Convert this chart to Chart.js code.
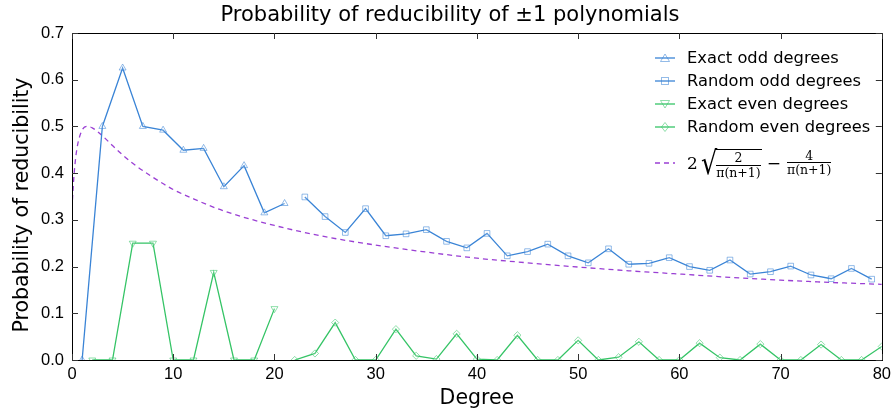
<!DOCTYPE html>
<html>
<head>
<meta charset="utf-8">
<script src="https://cdn.jsdelivr.net/npm/chart.js@4.4.0/dist/chart.umd.min.js"></script>
<style>
  html, body { margin: 0; padding: 0; background: #fff; }
  #wrap { position: relative; width: 896px; height: 414px; }
  #legend { position: absolute; left: 652px; top: 46px; font-family: "DejaVu Sans", sans-serif; font-size: 16.3px; color: #000; }
  #legend .row { height: 23px; display: flex; align-items: center; }
  #legend svg { width: 26px; height: 14px; margin-right: 9px; flex: none; }
  #legend .frm { margin-top: 13px; font-family: "DejaVu Serif", serif; font-size: 17px; display: flex; align-items: center; }
  .frac { display: inline-flex; flex-direction: column; align-items: center; font-size: 12.5px; line-height: 13.5px; vertical-align: middle; margin: 0 1px; }
  .frac .num { border-bottom: 1px solid #000; padding: 0 1px; align-self: stretch; text-align: center; }
  .rad { font-size: 32px; line-height: 32px; margin-left: 1px; transform: scaleX(0.8); display: inline-block; }
  .under { border-top: 1px solid #000; margin-left: -4px; padding-top: 1px; margin-top: 3px; }
</style>
</head>
<body>
<div id="wrap">
  <canvas id="grafico" width="896" height="414"></canvas>
  <div id="legend"></div>
</div>
<script>
// degrees (categories)
const oddExactDeg = [1, 3, 5, 7, 9, 11, 13, 15, 17, 19, 21];
const oddRandomDeg = [23, 25, 27, 29, 31, 33, 35, 37, 39, 41, 43, 45, 47, 49, 51, 53, 55, 57, 59, 61, 63, 65, 67, 69, 71, 73, 75, 77, 79];
const evenExactDeg = [2, 4, 6, 8, 10, 12, 14, 16, 18, 20];
const evenRandomDeg = [22, 24, 26, 28, 30, 32, 34, 36, 38, 40, 42, 44, 46, 48, 50, 52, 54, 56, 58, 60, 62, 64, 66, 68, 70, 72, 74, 76, 78, 80];

// probabilities
const exactOdd = [0, 0.5, 0.625, 0.5, 0.492, 0.449, 0.453, 0.371, 0.416, 0.315, 0.335];
const randomOdd = [0.349, 0.307, 0.273, 0.324, 0.266, 0.270, 0.279, 0.254, 0.240, 0.271, 0.223, 0.232, 0.248, 0.223, 0.208, 0.238, 0.205, 0.207, 0.219, 0.200, 0.192, 0.214, 0.184, 0.189, 0.201, 0.182, 0.174, 0.196, 0.173];
const exactEven = [0, 0, 0.25, 0.25, 0, 0, 0.1875, 0, 0, 0.11];
const randomEven = [0, 0.014, 0.080, 0, 0, 0.066, 0.009, 0.002, 0.056, 0.002, 0, 0.053, 0, 0, 0.042, 0, 0.006, 0.039, 0, 0, 0.036, 0.005, 0, 0.034, 0, 0, 0.033, 0, 0, 0.029];

// dashed reference curve, sampled
const curveX = [0, 0.1, 0.25, 0.5, 1, 1.5, 2, 3, 4, 5, 6, 8, 10, 12, 15, 20, 25, 30, 35, 40, 45, 50, 55, 60, 65, 70, 75, 80];
const curveY = [0.323, 0.364, 0.409, 0.454, 0.492, 0.500, 0.497, 0.480, 0.459, 0.439, 0.421, 0.391, 0.365, 0.345, 0.319, 0.288, 0.264, 0.246, 0.231, 0.218, 0.208, 0.199, 0.191, 0.184, 0.177, 0.171, 0.166, 0.162];

const xTicks = [0, 10, 20, 30, 40, 50, 60, 70, 80];
const yTicks = [0, 0.1, 0.2, 0.3, 0.4, 0.5, 0.6, 0.7];

const azul = '#3a84d6';
const azulClaro = 'rgba(58,132,214,0.55)';
const verde = '#35c466';
const verdeClaro = 'rgba(53,196,102,0.55)';
const roxo = '#9a3fd4';

function pares(xs, ys) {
  return xs.map((x, i) => ({ x: x, y: ys[i] }));
}

function serie(label, xs, ys, cor, corClara, estilo, rot) {
  return {
    label: label,
    data: pares(xs, ys),
    borderColor: cor,
    borderWidth: 1.3,
    backgroundColor: 'rgba(255,255,255,0)',
    pointStyle: estilo,
    pointRotation: rot,
    pointRadius: estilo === 'rectRot' ? 3.6 : 4,
    pointBorderColor: corClara,
    pointBackgroundColor: 'rgba(255,255,255,0.15)',
    pointBorderWidth: 1,
    tension: 0
  };
}

// frame, inward ticks and texts
const moldura = {
  id: 'moldura',
  afterDraw(chart) {
    const c = chart.ctx, a = chart.chartArea;
    const sx = chart.scales.x, sy = chart.scales.y;
    c.save();
    c.strokeStyle = '#000';
    c.lineWidth = 1;
    c.strokeRect(Math.round(a.left) + 0.5, Math.round(a.top) + 0.5, Math.round(a.right - a.left), Math.round(a.bottom - a.top));
    c.strokeStyle = '#333';
    c.beginPath();
    xTicks.forEach(v => {
      const px = Math.round(sx.getPixelForValue(v)) + 0.5;
      c.moveTo(px, a.bottom); c.lineTo(px, a.bottom - 6);
      c.moveTo(px, a.top); c.lineTo(px, a.top + 6);
    });
    yTicks.forEach(v => {
      const py = Math.round(sy.getPixelForValue(v)) + 0.5;
      c.moveTo(a.left, py); c.lineTo(a.left + 6, py);
      c.moveTo(a.right, py); c.lineTo(a.right - 6, py);
    });
    c.stroke();

    c.fillStyle = '#000';
    c.textAlign = 'center';
    c.textBaseline = 'middle';
    c.font = '21px "DejaVu Sans"';
    c.fillText('Probability of reducibility of \u00b11 polynomials', 450, 16);
    c.font = '20.5px "DejaVu Sans"';
    c.fillText('Degree', (a.left + a.right) / 2, 399);
    c.translate(23, 205);
    c.rotate(-Math.PI / 2);
    c.fillText('Probability of reducibility', 0, 0);
    c.restore();
  }
};

const ctx = document.getElementById('grafico');
new Chart(ctx, {
  type: 'line',
  data: {
    datasets: [
      serie('Exact odd degrees', oddExactDeg, exactOdd, azul, azulClaro, 'triangle', 0),
      serie('Random odd degrees', oddRandomDeg, randomOdd, azul, azulClaro, 'rect', 0),
      serie('Exact even degrees', evenExactDeg, exactEven, verde, verdeClaro, 'triangle', 180),
      serie('Random even degrees', evenRandomDeg, randomEven, verde, verdeClaro, 'rectRot', 0),
      {
        label: 'curve',
        data: pares(curveX, curveY),
        borderColor: roxo,
        borderWidth: 1.3,
        borderDash: [5, 4],
        pointRadius: 0,
        cubicInterpolationMode: 'monotone'
      }
    ]
  },
  options: {
    responsive: false,
    animation: false,
    layout: { padding: { top: 33, right: 13, left: 0, bottom: 0 } },
    plugins: { legend: { display: false }, title: { display: false }, tooltip: { enabled: false } },
    scales: {
      x: {
        type: 'linear', min: 0, max: 80,
        grid: { display: false, drawTicks: false },
        border: { display: false },
        afterBuildTicks: s => { s.ticks = xTicks.map(v => ({ value: v })); },
        afterFit: s => { s.height = 54; },
        ticks: { padding: 5, color: '#000', font: { family: 'Liberation Sans', size: 16.5 }, maxRotation: 0 }
      },
      y: {
        min: 0, max: 0.7,
        grid: { display: false, drawTicks: false },
        border: { display: false },
        afterBuildTicks: s => { s.ticks = yTicks.map(v => ({ value: v })); },
        afterFit: s => { s.width = 72; },
        ticks: { padding: 8, color: '#000', font: { family: 'Liberation Sans', size: 16.5 }, callback: v => v.toFixed(1) }
      }
    }
  },
  plugins: [moldura]
});

// legend (html, for the formula)
function amostra(cor, corClara, forma) {
  let m = '';
  if (forma === 'up') m = '<polygon points="13,3 17.5,10.5 8.5,10.5" fill="none" stroke="' + corClara + '"/>';
  if (forma === 'down') m = '<polygon points="13,11 17.5,3.5 8.5,3.5" fill="none" stroke="' + corClara + '"/>';
  if (forma === 'sq') m = '<rect x="9.5" y="3.5" width="7" height="7" fill="none" stroke="' + corClara + '"/>';
  if (forma === 'dia') m = '<polygon points="13,2.5 16.5,7 13,11.5 9.5,7" fill="none" stroke="' + corClara + '"/>';
  if (forma === 'dash') return '<svg viewBox="0 0 26 14"><line x1="3" y1="7" x2="23" y2="7" stroke="' + cor + '" stroke-width="1.3" stroke-dasharray="5,4"/></svg>';
  return '<svg viewBox="0 0 26 14"><line x1="3" y1="7" x2="23" y2="7" stroke="' + cor + '" stroke-width="1.3"/>' + m + '</svg>';
}
const itens = [
  ['Exact odd degrees', azul, azulClaro, 'up'],
  ['Random odd degrees', azul, azulClaro, 'sq'],
  ['Exact even degrees', verde, verdeClaro, 'down'],
  ['Random even degrees', verde, verdeClaro, 'dia']
];
let html = '';
itens.forEach(it => {
  html += '<div class="row">' + amostra(it[1], it[2], it[3]) + '<span>' + it[0] + '</span></div>';
});
html += '<div class="row frm">' + amostra(roxo, roxo, 'dash') +
  '<span>2</span><span class="rad">\u221a</span><span class="under"><span class="frac"><span class="num">2</span><span>\u03c0(n+1)</span></span></span>' +
  '<span style="margin:0 5px">\u2212</span><span class="frac"><span class="num">4</span><span>\u03c0(n+1)</span></span></div>';
document.getElementById('legend').innerHTML = html;
</script>
</body>
</html>
